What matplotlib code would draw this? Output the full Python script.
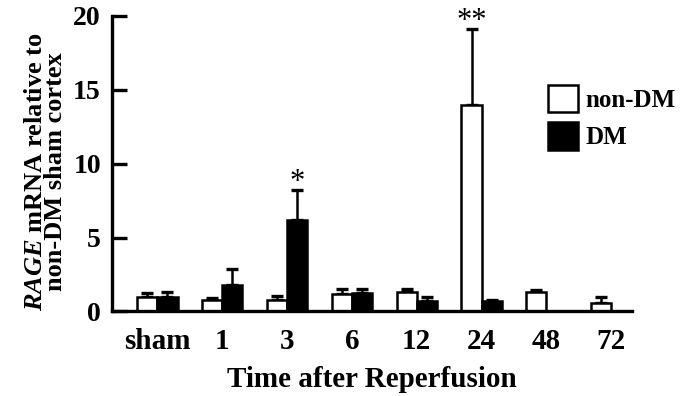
import matplotlib
matplotlib.use("Agg")
import matplotlib.pyplot as plt
import numpy as np

# data
times = ["sham", "1", "3", "6", "12", "24", "48", "72"]
non_dm = [0.95, 0.8, 0.8, 1.2, 1.3, 14.0, 1.3, 0.6]
non_dm_err = [0.3, 0.1, 0.22, 0.35, 0.2, 5.1, 0.15, 0.35]
dm = [1.0, 1.8, 6.2, 1.25, 0.7, 0.7, np.nan, np.nan]
dm_err = [0.3, 1.05, 2.0, 0.25, 0.3, 0.1, np.nan, np.nan]
stars_dm = ["", "", "*", "", "", "", "", ""]
stars_non_dm = ["", "", "", "", "", "**", "", ""]

plt.rcParams["font.family"] = ["Liberation Serif", "DejaVu Serif"]
plt.rcParams["font.weight"] = "bold"
plt.rcParams["mathtext.fontset"] = "custom"
plt.rcParams["mathtext.it"] = "Liberation Serif:italic:bold"
plt.rcParams["mathtext.rm"] = "Liberation Serif:bold"

fig = plt.figure(figsize=(6.81, 3.96), dpi=100)
ax = fig.add_axes([0.1645, 0.2134, 0.928 - 0.1645, 0.9596 - 0.2134])

x = np.arange(len(times))
w = 0.31
lw = 1.8

ax.bar(x - w / 2, non_dm, w, color="white", edgecolor="black", linewidth=lw, label="non-DM", zorder=2)
ax.bar(x + w / 2, dm, w, color="black", edgecolor="black", linewidth=lw, label="DM", zorder=2)

ax.errorbar(x - w / 2, non_dm, yerr=[np.zeros(len(x)), non_dm_err], fmt="none",
            ecolor="black", elinewidth=lw, capsize=4.5, capthick=2.4, zorder=1)
ax.errorbar(x + w / 2, dm, yerr=[np.zeros(len(x)), dm_err], fmt="none",
            ecolor="black", elinewidth=lw, capsize=4.5, capthick=2.4, zorder=1)

for i in range(len(x)):
    if stars_dm[i]:
        ax.annotate(stars_dm[i], (x[i] + w / 2, dm[i] + dm_err[i]), xytext=(0, 0),
                    textcoords="offset points", ha="center", va="baseline",
                    fontsize=22, fontweight="normal", annotation_clip=False)
    if stars_non_dm[i]:
        ax.annotate(stars_non_dm[i], (x[i] - w / 2, non_dm[i] + non_dm_err[i]), xytext=(0, 0),
                    textcoords="offset points", ha="center", va="baseline",
                    fontsize=22, fontweight="normal", annotation_clip=False)

ax.set_xlim(-0.70, 7.32)
ax.set_ylim(0, 20)
ax.set_yticks([0, 5, 10, 15, 20])
ax.set_xticks(x)
ax.set_xticklabels(times)

for s in ["top", "right"]:
    ax.spines[s].set_visible(False)
for s in ["left", "bottom"]:
    ax.spines[s].set_linewidth(2.4)

ax.tick_params(axis="y", direction="in", length=10.5, width=2.4, pad=8, labelsize=20)
ax.tick_params(axis="x", length=0, pad=12, labelsize=21)

ax.set_xlabel("Time after Reperfusion", fontsize=21, fontweight="bold", labelpad=8)
ax.set_ylabel(r"$\mathit{RAGE}$ mRNA relative to" + "\n" + "non-DM sham cortex",
              fontsize=19, fontweight="bold", linespacing=0.8)
ax.yaxis.set_label_coords(-0.087, 0.472)

ax.legend(loc="upper left", bbox_to_anchor=(548 / 681, 1 - 85 / 396),
          bbox_transform=fig.transFigure, frameon=False, borderpad=0, borderaxespad=0,
          handlelength=1.2, handleheight=1.3, handletextpad=0.3, labelspacing=0.4,
          prop={"weight": "bold", "size": 18})

fig.savefig("out.png", dpi=100, facecolor="white")
